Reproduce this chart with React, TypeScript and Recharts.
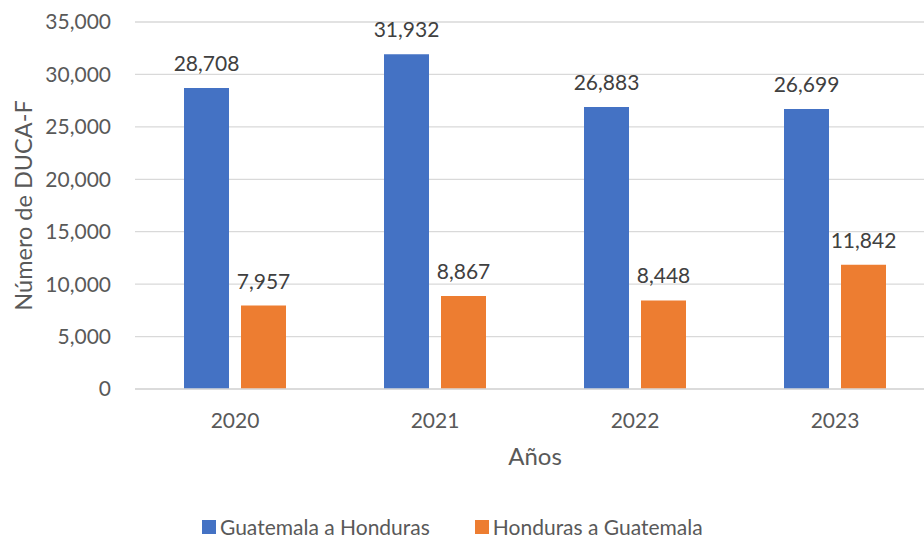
import React from "react";
import { BarChart, Bar, XAxis, YAxis, CartesianGrid, LabelList } from "recharts";

const years = ["2020", "2021", "2022", "2023"];
const guatemalaAHonduras = [28708, 31932, 26883, 26699];
const hondurasAGuatemala = [7957, 8867, 8448, 11842];
const seriesNames = ["Guatemala a Honduras", "Honduras a Guatemala"];
const seriesColors = ["#4472C4", "#ED7D31"];
const yTicks = [0, 5000, 10000, 15000, 20000, 25000, 30000, 35000];

const data = years.map((year, i) => ({
  year,
  gh: guatemalaAHonduras[i],
  hg: hondurasAGuatemala[i],
}));

const fmt = (v: number) => v.toLocaleString("en-US");

const ValueLabel = (props: any) => {
  const { x, y, width, value } = props;
  return (
    <text
      x={x + width / 2}
      y={y - 17}
      textAnchor="middle"
      fill="#404040"
      fontSize={21}
      fontFamily="Lato"
    >
      {fmt(value)}
    </text>
  );
};

export default function App() {
  return (
    <div
      style={{
        position: "fixed",
        left: 0,
        top: 0,
        width: 924,
        height: 540,
        overflow: "hidden",
        background: "#fff",
        fontFamily: "Lato",
      }}
    >
      <BarChart
        width={940}
        height={540}
        data={data}
        margin={{ top: 22, right: 5, left: 0, bottom: 121 }}
        barSize={45}
        barGap={12}
      >
        <CartesianGrid vertical={false} stroke="#d9d9d9" strokeWidth={1.3} />
        <XAxis
          dataKey="year"
          height={30}
          axisLine={{ stroke: "#d9d9d9", strokeWidth: 1.3 }}
          tickLine={false}
          tickSize={0}
          tickMargin={24}
          tick={{ fill: "#595959", fontSize: 21, fontFamily: "Lato" }}
          label={{
            value: "Años",
            position: "bottom",
            offset: 29,
            style: { fill: "#595959", fontSize: 24, fontFamily: "Lato" },
          }}
        />
        <YAxis
          width={135}
          domain={[0, 35000]}
          ticks={yTicks}
          axisLine={false}
          tickLine={false}
          tickSize={0}
          tickMargin={24}
          tickFormatter={fmt}
          tick={{ fill: "#595959", fontSize: 21, fontFamily: "Lato" }}
          label={{
            value: "Número de DUCA-F",
            angle: -90,
            position: "insideLeft",
            offset: 24,
            style: { textAnchor: "middle", fill: "#595959", fontSize: 23.5, fontFamily: "Lato" },
          }}
        />
        <Bar dataKey="gh" name={seriesNames[0]} fill={seriesColors[0]} isAnimationActive={false}>
          <LabelList dataKey="gh" content={ValueLabel} />
        </Bar>
        <Bar dataKey="hg" name={seriesNames[1]} fill={seriesColors[1]} isAnimationActive={false}>
          <LabelList dataKey="hg" content={ValueLabel} />
        </Bar>
      </BarChart>
      {/* legend */}
      <div
        style={{
          position: "absolute",
          left: 202,
          top: 515,
          display: "flex",
          alignItems: "center",
          gap: 45,
          fontSize: 21,
          lineHeight: "24px",
          color: "#595959",
        }}
      >
        {seriesNames.map((name, i) => (
          <div key={name} style={{ display: "flex", alignItems: "center" }}>
            <span
              style={{
                display: "inline-block",
                width: 14,
                height: 14,
                background: seriesColors[i],
                marginRight: 4,
              }}
            />
            <span>{name}</span>
          </div>
        ))}
      </div>
    </div>
  );
}
